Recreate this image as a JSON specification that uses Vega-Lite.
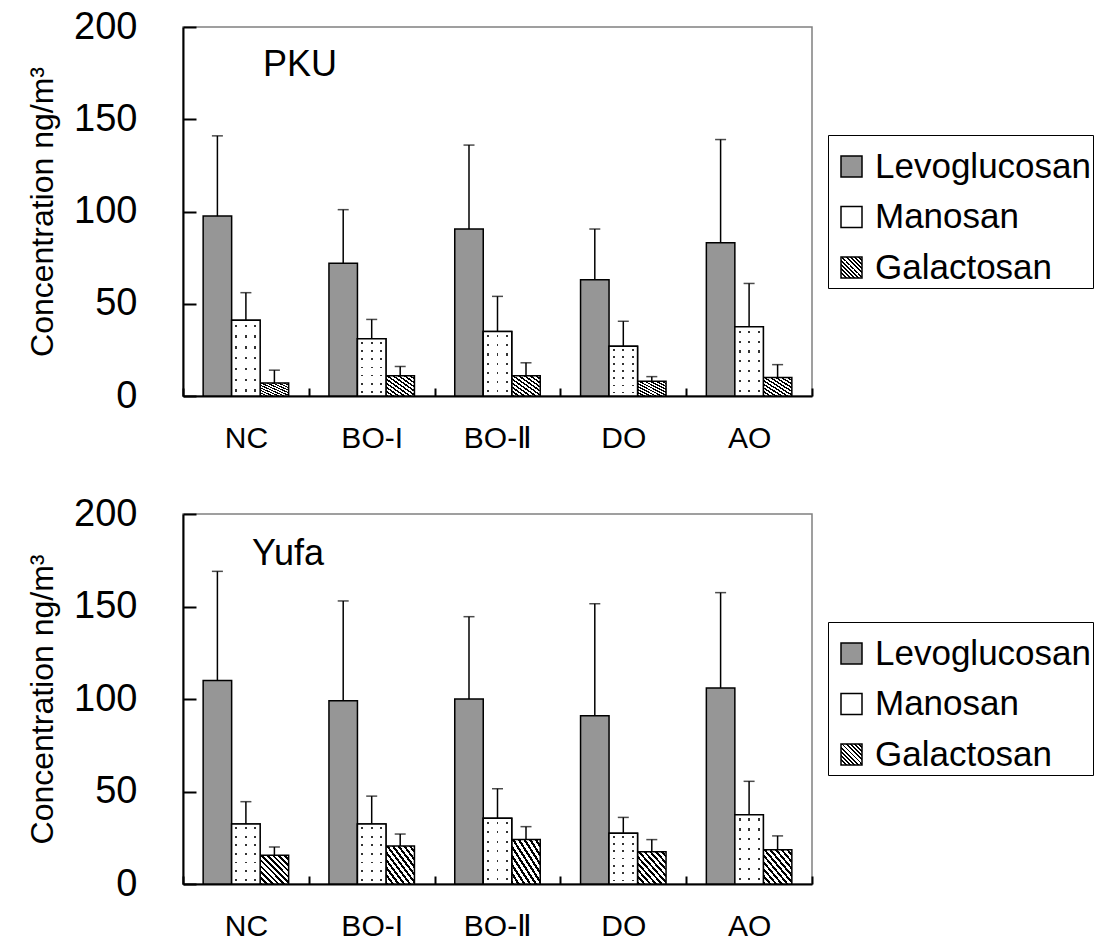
{
  "$schema": "https://vega.github.io/schema/vega-lite/v6.json",
  "background": "white",
  "padding": {"left": 25, "top": 7, "right": 0, "bottom": 0},
  "bounds": "flush",
  "spacing": 118,
  "datasets": {
    "d": [
      {"site": "PKU", "cat": "NC", "compound": "Levoglucosan", "mean": 97.5, "upper": 141},
      {"site": "PKU", "cat": "NC", "compound": "Manosan", "mean": 41, "upper": 56},
      {"site": "PKU", "cat": "NC", "compound": "Galactosan", "mean": 7, "upper": 14},
      {"site": "PKU", "cat": "BO-I", "compound": "Levoglucosan", "mean": 72, "upper": 101},
      {"site": "PKU", "cat": "BO-I", "compound": "Manosan", "mean": 31, "upper": 41.5},
      {"site": "PKU", "cat": "BO-I", "compound": "Galactosan", "mean": 11, "upper": 16},
      {"site": "PKU", "cat": "BO-Ⅱ", "compound": "Levoglucosan", "mean": 90.5, "upper": 136},
      {"site": "PKU", "cat": "BO-Ⅱ", "compound": "Manosan", "mean": 35, "upper": 54},
      {"site": "PKU", "cat": "BO-Ⅱ", "compound": "Galactosan", "mean": 11, "upper": 18},
      {"site": "PKU", "cat": "DO", "compound": "Levoglucosan", "mean": 63, "upper": 90.5},
      {"site": "PKU", "cat": "DO", "compound": "Manosan", "mean": 27, "upper": 40.5},
      {"site": "PKU", "cat": "DO", "compound": "Galactosan", "mean": 8, "upper": 10.5},
      {"site": "PKU", "cat": "AO", "compound": "Levoglucosan", "mean": 83, "upper": 139},
      {"site": "PKU", "cat": "AO", "compound": "Manosan", "mean": 37.5, "upper": 61},
      {"site": "PKU", "cat": "AO", "compound": "Galactosan", "mean": 10, "upper": 17},
      {"site": "Yufa", "cat": "NC", "compound": "Levoglucosan", "mean": 110, "upper": 169},
      {"site": "Yufa", "cat": "NC", "compound": "Manosan", "mean": 32.5, "upper": 44.5},
      {"site": "Yufa", "cat": "NC", "compound": "Galactosan", "mean": 15.5, "upper": 20},
      {"site": "Yufa", "cat": "BO-I", "compound": "Levoglucosan", "mean": 99, "upper": 153},
      {"site": "Yufa", "cat": "BO-I", "compound": "Manosan", "mean": 32.5, "upper": 47.5},
      {"site": "Yufa", "cat": "BO-I", "compound": "Galactosan", "mean": 20.5, "upper": 27},
      {"site": "Yufa", "cat": "BO-Ⅱ", "compound": "Levoglucosan", "mean": 100, "upper": 144.5},
      {"site": "Yufa", "cat": "BO-Ⅱ", "compound": "Manosan", "mean": 35.5, "upper": 51.5},
      {"site": "Yufa", "cat": "BO-Ⅱ", "compound": "Galactosan", "mean": 24, "upper": 31},
      {"site": "Yufa", "cat": "DO", "compound": "Levoglucosan", "mean": 91, "upper": 151.5},
      {"site": "Yufa", "cat": "DO", "compound": "Manosan", "mean": 27.5, "upper": 36},
      {"site": "Yufa", "cat": "DO", "compound": "Galactosan", "mean": 17.5, "upper": 24},
      {"site": "Yufa", "cat": "AO", "compound": "Levoglucosan", "mean": 106, "upper": 157.5},
      {"site": "Yufa", "cat": "AO", "compound": "Manosan", "mean": 37.5, "upper": 55.5},
      {"site": "Yufa", "cat": "AO", "compound": "Galactosan", "mean": 18.5, "upper": 26}
    ]
  },
  "vconcat": [
    {
      "width": 629,
      "height": 369,
      "title": {"text": "PKU", "anchor": "start", "frame": "group", "dx": 80, "offset": -104, "fontSize": 36, "fontWeight": "normal", "font": "Liberation Sans", "color": "black", "baseline": "alphabetic"},
      "data": {"name": "d"},
      "transform": [{"filter": "datum.site === 'PKU'"}],
      "encoding": {
        "x": {"field": "cat", "type": "nominal", "scale": {"domain": ["NC", "BO-I", "BO-Ⅱ", "DO", "AO"], "paddingInner": 0, "paddingOuter": 0}, "axis": {"title": null, "labelAngle": 0, "tickBand": "extent", "tickSize": -8, "labelFontSize": 30, "labelPadding": 35}},
        "xOffset": {"field": "compound", "type": "nominal", "scale": {"domain": ["Levoglucosan", "Manosan", "Galactosan"], "paddingInner": 0, "paddingOuter": 0.707}},
        "y": {"field": "mean", "type": "quantitative", "scale": {"domain": [0, 200], "nice": false}, "axis": {"title": "Concentration ng/m³", "values": [0, 50, 100, 150, 200], "tickSize": -13, "labelFontSize": 38, "labelPadding": 59, "titleFontSize": 32, "titlePadding": 14}}
      },
      "layer": [
        {"mark": {"type": "bar", "stroke": "black", "strokeWidth": 1.5},
         "encoding": {"fill": {"field": "compound", "type": "nominal",
           "scale": {"domain": ["Levoglucosan", "Manosan", "Galactosan"], "range": ["#969696", "#ffffff",
             {"expr": "{gradient: 'linear', x1: 0, y1: 1, x2: 1, y2: 0, stops: [{offset: 0, color: '#000'}, {offset: 0.045, color: '#000'}, {offset: 0.045, color: '#fff'}, {offset: 0.1, color: '#fff'}, {offset: 0.1, color: '#000'}, {offset: 0.145, color: '#000'}, {offset: 0.145, color: '#fff'}, {offset: 0.2, color: '#fff'}, {offset: 0.2, color: '#000'}, {offset: 0.245, color: '#000'}, {offset: 0.245, color: '#fff'}, {offset: 0.3, color: '#fff'}, {offset: 0.3, color: '#000'}, {offset: 0.345, color: '#000'}, {offset: 0.345, color: '#fff'}, {offset: 0.4, color: '#fff'}, {offset: 0.4, color: '#000'}, {offset: 0.445, color: '#000'}, {offset: 0.445, color: '#fff'}, {offset: 0.5, color: '#fff'}, {offset: 0.5, color: '#000'}, {offset: 0.545, color: '#000'}, {offset: 0.545, color: '#fff'}, {offset: 0.6, color: '#fff'}, {offset: 0.6, color: '#000'}, {offset: 0.645, color: '#000'}, {offset: 0.645, color: '#fff'}, {offset: 0.7, color: '#fff'}, {offset: 0.7, color: '#000'}, {offset: 0.745, color: '#000'}, {offset: 0.745, color: '#fff'}, {offset: 0.8, color: '#fff'}, {offset: 0.8, color: '#000'}, {offset: 0.845, color: '#000'}, {offset: 0.845, color: '#fff'}, {offset: 0.9, color: '#fff'}, {offset: 0.9, color: '#000'}, {offset: 0.945, color: '#000'}, {offset: 0.945, color: '#fff'}, {offset: 1, color: '#fff'}]}"}
           ]},
           "legend": {"title": " ", "titleFontSize": 12, "titlePadding": 0, "orient": "none", "legendX": 645, "legendY": 108, "symbolStrokeColor": "black", "symbolStrokeWidth": 1.5}}}},
        {"transform": [{"filter": "datum.compound === 'Manosan'"}], "mark": {"type": "bar", "fill": "#333333"}},
        {"transform": [{"filter": "datum.compound === 'Manosan'"}], "mark": {"type": "bar", "fill": {"gradient": "linear", "x1": 0, "y1": 0, "x2": 1, "y2": 0, "stops": [
          {"offset": 0, "color": "#ffffff"}, {"offset": 0.1333, "color": "#ffffff"}, {"offset": 0.1333, "color": "rgba(255,255,255,0)"}, {"offset": 0.2, "color": "rgba(255,255,255,0)"}, {"offset": 0.2, "color": "#ffffff"},
          {"offset": 0.4667, "color": "#ffffff"}, {"offset": 0.4667, "color": "rgba(255,255,255,0)"}, {"offset": 0.5333, "color": "rgba(255,255,255,0)"}, {"offset": 0.5333, "color": "#ffffff"},
          {"offset": 0.8, "color": "#ffffff"}, {"offset": 0.8, "color": "rgba(255,255,255,0)"}, {"offset": 0.8667, "color": "rgba(255,255,255,0)"}, {"offset": 0.8667, "color": "#ffffff"}, {"offset": 1, "color": "#ffffff"}
        ]}}},
        {"transform": [{"filter": "datum.compound === 'Manosan'"}], "mark": {"type": "bar", "fill": {"gradient": "linear", "x1": 0, "y1": 0, "x2": 0, "y2": 1, "stops": [
          {"offset": 0, "color": "#ffffff"}, {"offset": 0.0557, "color": "#ffffff"}, {"offset": 0.0557, "color": "rgba(255,255,255,0)"}, {"offset": 0.0871, "color": "rgba(255,255,255,0)"}, {"offset": 0.0871, "color": "#ffffff"},
          {"offset": 0.1986, "color": "#ffffff"}, {"offset": 0.1986, "color": "rgba(255,255,255,0)"}, {"offset": 0.23, "color": "rgba(255,255,255,0)"}, {"offset": 0.23, "color": "#ffffff"},
          {"offset": 0.3414, "color": "#ffffff"}, {"offset": 0.3414, "color": "rgba(255,255,255,0)"}, {"offset": 0.3729, "color": "rgba(255,255,255,0)"}, {"offset": 0.3729, "color": "#ffffff"},
          {"offset": 0.4843, "color": "#ffffff"}, {"offset": 0.4843, "color": "rgba(255,255,255,0)"}, {"offset": 0.5157, "color": "rgba(255,255,255,0)"}, {"offset": 0.5157, "color": "#ffffff"},
          {"offset": 0.6271, "color": "#ffffff"}, {"offset": 0.6271, "color": "rgba(255,255,255,0)"}, {"offset": 0.6586, "color": "rgba(255,255,255,0)"}, {"offset": 0.6586, "color": "#ffffff"},
          {"offset": 0.77, "color": "#ffffff"}, {"offset": 0.77, "color": "rgba(255,255,255,0)"}, {"offset": 0.8014, "color": "rgba(255,255,255,0)"}, {"offset": 0.8014, "color": "#ffffff"},
          {"offset": 0.9129, "color": "#ffffff"}, {"offset": 0.9129, "color": "rgba(255,255,255,0)"}, {"offset": 0.9443, "color": "rgba(255,255,255,0)"}, {"offset": 0.9443, "color": "#ffffff"}, {"offset": 1, "color": "#ffffff"}
        ]}}},
        {"transform": [{"filter": "datum.compound === 'Manosan'"}], "mark": {"type": "bar", "fillOpacity": 0, "stroke": "black", "strokeWidth": 1.5}},
        {"mark": {"type": "rule", "color": "black", "strokeWidth": 1.5}, "encoding": {"y2": {"field": "upper"}}},
        {"mark": {"type": "tick", "color": "black", "thickness": 1.5, "size": 11}, "encoding": {"y": {"field": "upper", "type": "quantitative", "axis": {"title": "Concentration ng/m³", "values": [0, 50, 100, 150, 200], "tickSize": -13, "labelFontSize": 38, "labelPadding": 59, "titleFontSize": 32, "titlePadding": 14}}}}
      ]
    },
    {
      "width": 629,
      "height": 370,
      "title": {"text": "Yufa", "anchor": "start", "frame": "group", "dx": 69, "offset": -106, "fontSize": 36, "fontWeight": "normal", "font": "Liberation Sans", "color": "black", "baseline": "alphabetic"},
      "data": {"name": "d"},
      "transform": [{"filter": "datum.site === 'Yufa'"}],
      "encoding": {
        "x": {"field": "cat", "type": "nominal", "scale": {"domain": ["NC", "BO-I", "BO-Ⅱ", "DO", "AO"], "paddingInner": 0, "paddingOuter": 0}, "axis": {"title": null, "labelAngle": 0, "tickBand": "extent", "tickSize": -8, "labelFontSize": 30, "labelPadding": 35}},
        "xOffset": {"field": "compound", "type": "nominal", "scale": {"domain": ["Levoglucosan", "Manosan", "Galactosan"], "paddingInner": 0, "paddingOuter": 0.707}},
        "y": {"field": "mean", "type": "quantitative", "scale": {"domain": [0, 200], "nice": false}, "axis": {"title": "Concentration ng/m³", "values": [0, 50, 100, 150, 200], "tickSize": -13, "labelFontSize": 38, "labelPadding": 59, "titleFontSize": 32, "titlePadding": 14}}
      },
      "layer": [
        {"mark": {"type": "bar", "stroke": "black", "strokeWidth": 1.5},
         "encoding": {"fill": {"field": "compound", "type": "nominal",
           "scale": {"domain": ["Levoglucosan", "Manosan", "Galactosan"], "range": ["#969696", "#ffffff",
             {"expr": "{gradient: 'linear', x1: 0, y1: 1, x2: 1, y2: 0, stops: [{offset: 0, color: '#000'}, {offset: 0.045, color: '#000'}, {offset: 0.045, color: '#fff'}, {offset: 0.1, color: '#fff'}, {offset: 0.1, color: '#000'}, {offset: 0.145, color: '#000'}, {offset: 0.145, color: '#fff'}, {offset: 0.2, color: '#fff'}, {offset: 0.2, color: '#000'}, {offset: 0.245, color: '#000'}, {offset: 0.245, color: '#fff'}, {offset: 0.3, color: '#fff'}, {offset: 0.3, color: '#000'}, {offset: 0.345, color: '#000'}, {offset: 0.345, color: '#fff'}, {offset: 0.4, color: '#fff'}, {offset: 0.4, color: '#000'}, {offset: 0.445, color: '#000'}, {offset: 0.445, color: '#fff'}, {offset: 0.5, color: '#fff'}, {offset: 0.5, color: '#000'}, {offset: 0.545, color: '#000'}, {offset: 0.545, color: '#fff'}, {offset: 0.6, color: '#fff'}, {offset: 0.6, color: '#000'}, {offset: 0.645, color: '#000'}, {offset: 0.645, color: '#fff'}, {offset: 0.7, color: '#fff'}, {offset: 0.7, color: '#000'}, {offset: 0.745, color: '#000'}, {offset: 0.745, color: '#fff'}, {offset: 0.8, color: '#fff'}, {offset: 0.8, color: '#000'}, {offset: 0.845, color: '#000'}, {offset: 0.845, color: '#fff'}, {offset: 0.9, color: '#fff'}, {offset: 0.9, color: '#000'}, {offset: 0.945, color: '#000'}, {offset: 0.945, color: '#fff'}, {offset: 1, color: '#fff'}]}"}
           ]},
           "legend": {"title": " ", "titleFontSize": 12, "titlePadding": 0, "orient": "none", "legendX": 645, "legendY": 108, "symbolStrokeColor": "black", "symbolStrokeWidth": 1.5}}}},
        {"transform": [{"filter": "datum.compound === 'Manosan'"}], "mark": {"type": "bar", "fill": "#333333"}},
        {"transform": [{"filter": "datum.compound === 'Manosan'"}], "mark": {"type": "bar", "fill": {"gradient": "linear", "x1": 0, "y1": 0, "x2": 1, "y2": 0, "stops": [
          {"offset": 0, "color": "#ffffff"}, {"offset": 0.1333, "color": "#ffffff"}, {"offset": 0.1333, "color": "rgba(255,255,255,0)"}, {"offset": 0.2, "color": "rgba(255,255,255,0)"}, {"offset": 0.2, "color": "#ffffff"},
          {"offset": 0.4667, "color": "#ffffff"}, {"offset": 0.4667, "color": "rgba(255,255,255,0)"}, {"offset": 0.5333, "color": "rgba(255,255,255,0)"}, {"offset": 0.5333, "color": "#ffffff"},
          {"offset": 0.8, "color": "#ffffff"}, {"offset": 0.8, "color": "rgba(255,255,255,0)"}, {"offset": 0.8667, "color": "rgba(255,255,255,0)"}, {"offset": 0.8667, "color": "#ffffff"}, {"offset": 1, "color": "#ffffff"}
        ]}}},
        {"transform": [{"filter": "datum.compound === 'Manosan'"}], "mark": {"type": "bar", "fill": {"gradient": "linear", "x1": 0, "y1": 0, "x2": 0, "y2": 1, "stops": [
          {"offset": 0, "color": "#ffffff"}, {"offset": 0.0557, "color": "#ffffff"}, {"offset": 0.0557, "color": "rgba(255,255,255,0)"}, {"offset": 0.0871, "color": "rgba(255,255,255,0)"}, {"offset": 0.0871, "color": "#ffffff"},
          {"offset": 0.1986, "color": "#ffffff"}, {"offset": 0.1986, "color": "rgba(255,255,255,0)"}, {"offset": 0.23, "color": "rgba(255,255,255,0)"}, {"offset": 0.23, "color": "#ffffff"},
          {"offset": 0.3414, "color": "#ffffff"}, {"offset": 0.3414, "color": "rgba(255,255,255,0)"}, {"offset": 0.3729, "color": "rgba(255,255,255,0)"}, {"offset": 0.3729, "color": "#ffffff"},
          {"offset": 0.4843, "color": "#ffffff"}, {"offset": 0.4843, "color": "rgba(255,255,255,0)"}, {"offset": 0.5157, "color": "rgba(255,255,255,0)"}, {"offset": 0.5157, "color": "#ffffff"},
          {"offset": 0.6271, "color": "#ffffff"}, {"offset": 0.6271, "color": "rgba(255,255,255,0)"}, {"offset": 0.6586, "color": "rgba(255,255,255,0)"}, {"offset": 0.6586, "color": "#ffffff"},
          {"offset": 0.77, "color": "#ffffff"}, {"offset": 0.77, "color": "rgba(255,255,255,0)"}, {"offset": 0.8014, "color": "rgba(255,255,255,0)"}, {"offset": 0.8014, "color": "#ffffff"},
          {"offset": 0.9129, "color": "#ffffff"}, {"offset": 0.9129, "color": "rgba(255,255,255,0)"}, {"offset": 0.9443, "color": "rgba(255,255,255,0)"}, {"offset": 0.9443, "color": "#ffffff"}, {"offset": 1, "color": "#ffffff"}
        ]}}},
        {"transform": [{"filter": "datum.compound === 'Manosan'"}], "mark": {"type": "bar", "fillOpacity": 0, "stroke": "black", "strokeWidth": 1.5}},
        {"mark": {"type": "rule", "color": "black", "strokeWidth": 1.5}, "encoding": {"y2": {"field": "upper"}}},
        {"mark": {"type": "tick", "color": "black", "thickness": 1.5, "size": 11}, "encoding": {"y": {"field": "upper", "type": "quantitative", "axis": {"title": "Concentration ng/m³", "values": [0, 50, 100, 150, 200], "tickSize": -13, "labelFontSize": 38, "labelPadding": 59, "titleFontSize": 32, "titlePadding": 14}}}}
      ]
    }
  ],
  "resolve": {"scale": {"fill": "independent"}, "legend": {"fill": "independent"}},
  "config": {
    "font": "Liberation Sans",
    "view": {"stroke": "#808080", "strokeWidth": 1.5},
    "axis": {"domainColor": "black", "domainWidth": 2, "tickColor": "black", "tickWidth": 2, "labelColor": "black", "titleColor": "black", "grid": false, "titleFontWeight": "normal", "labelFont": "Liberation Sans", "titleFont": "Liberation Sans"},
    "legend": {"strokeColor": "black", "padding": 2, "symbolOffset": 4, "symbolType": "square", "symbolSize": 441, "symbolStrokeColor": "black", "symbolStrokeWidth": 1.5, "labelFontSize": 35, "labelOffset": 6, "rowPadding": 14.5, "labelColor": "black", "labelFont": "Liberation Sans", "labelLimit": 400}
  }
}
